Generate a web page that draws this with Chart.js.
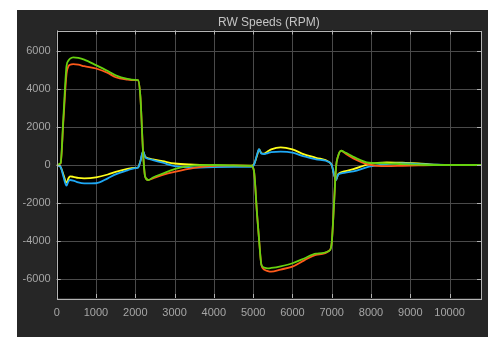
<!DOCTYPE html>
<html lang="en">
<head>
    <meta charset="UTF-8">
    <title>RW Speeds (RPM)</title>
    <script src="https://cdn.jsdelivr.net/npm/chart.js"></script>
    <style>
        body { margin: 0; background: #ffffff; }
        #wrap { position: absolute; left: 17px; top: 10px; width: 471px; height: 327px; background: #262626; }
    </style>
</head>
<body>
    <div id="wrap"><canvas id="rwChart" width="471" height="327"></canvas></div>
    <script>
        const chartTitle = 'RW Speeds (RPM)';
        const xTicks = [0, 1000, 2000, 3000, 4000, 5000, 6000, 7000, 8000, 9000, 10000];
        const yTicks = [-6000, -4000, -2000, 0, 2000, 4000, 6000];

        const times = [0, 100, 170, 250, 300, 340, 420, 550, 700, 1000,
            1300, 1500, 1800, 2000, 2070, 2130, 2200, 2250, 2330, 2450,
            2700, 3000, 3500, 4000, 4500, 4950, 5020, 5100, 5150, 5210,
            5280, 5375, 5460, 5700, 6000, 6300, 6600, 6940, 7000, 7060,
            7110, 7160, 7240, 7350, 7550, 7950, 8400, 8800, 9200, 9600,
            10000, 10800];

        const wheel2 = [0, 100, 2500, 5200, 5500, 5600, 5670, 5640, 5550, 5260,
            4950, 4720, 4530, 4480, 4470, 3600, 600, -600, -790, -660,
            -450, -220, -20, 0, -20, -50, -300, -2600, -3900, -5250,
            -5400, -5440, -5420, -5330, -5170, -4920, -4660, -4510, -4100, -2000,
            -100, 450, 750, 650, 430, 120, 90, 50, 20, 0,
            0, 0];

        const wheel1 = [0, 80, 2300, 4800, 5200, 5280, 5310, 5280, 5200, 5080,
            4850, 4620, 4500, 4470, 4460, 3600, 600, -600, -790, -700,
            -520, -360, -150, -40, -20, -50, -300, -2600, -3900, -5250,
            -5500, -5580, -5610, -5500, -5350, -5020, -4730, -4500, -4100, -2000,
            -100, 450, 760, 600, 350, 20, -60, -40, -20, 0,
            0, 0];

        const wheel3 = [0, -100, -500, -930, -700, -600, -620, -680, -700, -650,
            -500, -360, -200, -150, -130, 200, 700, 450, 350, 300,
            200, 80, 20, -20, -30, -30, 30, 500, 820, 620,
            600, 720, 820, 930, 820, 560, 380, 150, 0, -500,
            -780, -500, -380, -320, -220, 50, 140, 120, 90, 20,
            0, 0];

        const wheel4 = [0, -100, -600, -1090, -850, -790, -820, -920, -970, -960,
            -700, -490, -280, -160, -140, 200, 730, 420, 330, 260,
            120, -60, -130, -110, -100, -100, 0, 550, 840, 600,
            580, 630, 680, 700, 650, 450, 300, 140, 0, -500,
            -790, -520, -440, -400, -340, -90, 50, 90, 50, 20,
            0, 0];

        function toPoints(values) {
            return times.map((t, i) => ({ x: t, y: values[i] }));
        }

        function line(values, color) {
            return {
                data: toPoints(values),
                borderColor: color,
                borderWidth: 1.8,
                pointRadius: 0,
                cubicInterpolationMode: 'monotone',
                fill: false
            };
        }

        // black axes box, inner tick marks and title, matlab style
        const axesDecor = {
            id: 'axesDecor',
            beforeDatasetsDraw(chart) {
                const { ctx, chartArea: a } = chart;
                ctx.save();
                ctx.fillStyle = '#000000';
                ctx.fillRect(a.left, a.top, a.right - a.left, a.bottom - a.top);
                ctx.restore();
                // grid again over the black fill
                ctx.save();
                ctx.strokeStyle = '#4a4a4a';
                ctx.lineWidth = 1;
                const xs = chart.scales.x, ys = chart.scales.y;
                xTicks.forEach(v => {
                    const px = Math.round(xs.getPixelForValue(v)) + 0.5;
                    ctx.beginPath(); ctx.moveTo(px, a.top); ctx.lineTo(px, a.bottom); ctx.stroke();
                });
                yTicks.forEach(v => {
                    const py = Math.round(ys.getPixelForValue(v)) + 0.5;
                    ctx.beginPath(); ctx.moveTo(a.left, py); ctx.lineTo(a.right, py); ctx.stroke();
                });
                ctx.restore();
            },
            afterDraw(chart) {
                const { ctx, chartArea: a } = chart;
                const xs = chart.scales.x, ys = chart.scales.y;
                ctx.save();
                ctx.strokeStyle = '#b4b4b4';
                ctx.lineWidth = 1;
                ctx.strokeRect(Math.round(a.left) + 0.5, Math.round(a.top) + 0.5,
                    Math.round(a.right - a.left), Math.round(a.bottom - a.top));
                const len = 4;
                ctx.beginPath();
                xTicks.forEach(v => {
                    const px = Math.round(xs.getPixelForValue(v)) + 0.5;
                    ctx.moveTo(px, a.bottom); ctx.lineTo(px, a.bottom - len);
                    ctx.moveTo(px, a.top); ctx.lineTo(px, a.top + len);
                });
                yTicks.forEach(v => {
                    const py = Math.round(ys.getPixelForValue(v)) + 0.5;
                    ctx.moveTo(a.left, py); ctx.lineTo(a.left + len, py);
                    ctx.moveTo(a.right, py); ctx.lineTo(a.right - len, py);
                });
                ctx.stroke();
                ctx.fillStyle = '#c4c4c4';
                ctx.font = '12px "Liberation Sans", Arial, sans-serif';
                ctx.textAlign = 'center';
                ctx.textBaseline = 'middle';
                ctx.fillText(chartTitle, (a.left + a.right) / 2, 12.5);
                ctx.restore();
            }
        };

        const ctx = document.getElementById('rwChart').getContext('2d');
        const chart = new Chart(ctx, {
            type: 'line',
            data: {
                datasets: [
                    line(wheel2, '#66d10f'),
                    line(wheel1, '#ff5a1a'),
                    line(wheel4, '#1ea8f5'),
                    line(wheel3, '#ffff1a')
                ]
            },
            options: {
                responsive: false,
                animation: false,
                layout: { padding: { left: 0, top: 20.5, right: 7, bottom: 0 } },
                plugins: {
                    legend: { display: false },
                    tooltip: { enabled: false }
                },
                scales: {
                    x: {
                        type: 'linear',
                        min: 0,
                        max: 10800,
                        afterBuildTicks: s => { s.ticks = xTicks.map(v => ({ value: v })); },
                        afterFit: s => { s.height = 39; },
                        grid: { display: false, drawTicks: false },
                        border: { display: false },
                        ticks: {
                            color: '#a6a6a6',
                            padding: 8,
                            maxRotation: 0,
                            autoSkip: false,
                            callback: v => String(v),
                            font: { family: '"Liberation Sans", Arial, sans-serif', size: 11 }
                        }
                    },
                    y: {
                        type: 'linear',
                        min: -7000,
                        max: 7080,
                        afterBuildTicks: s => { s.ticks = yTicks.map(v => ({ value: v })); },
                        afterFit: s => { s.width = 39.7; },
                        grid: { display: false, drawTicks: false },
                        border: { display: false },
                        ticks: {
                            color: '#a6a6a6',
                            padding: 6,
                            autoSkip: false,
                            callback: v => String(v),
                            font: { family: '"Liberation Sans", Arial, sans-serif', size: 11 }
                        }
                    }
                }
            },
            plugins: [axesDecor]
        });
    </script>
</body>
</html>
